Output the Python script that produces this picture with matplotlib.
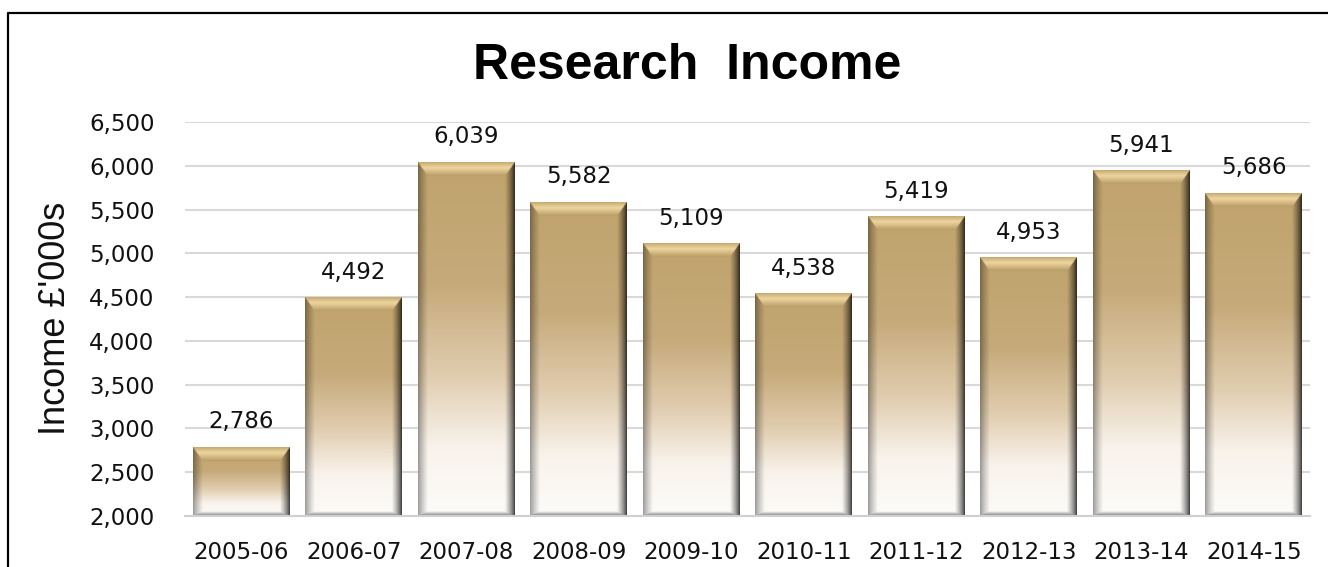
import numpy as np
import matplotlib
matplotlib.use("Agg")
import matplotlib.pyplot as plt
from matplotlib.lines import Line2D

# data
years = ['2005-06', '2006-07', '2007-08', '2008-09', '2009-10',
         '2010-11', '2011-12', '2012-13', '2013-14', '2014-15']
income = [2786, 4492, 6039, 5582, 5109, 4538, 5419, 4953, 5941, 5686]
yticks = [2000, 2500, 3000, 3500, 4000, 4500, 5000, 5500, 6000, 6500]

ymin, ymax = 2000, 6500
bar_w = 0.862

fig = plt.figure(figsize=(13.28, 5.67), dpi=100)
ax = fig.add_axes([185 / 1328, 51 / 567, 1125 / 1328, 394 / 567])

# outer frame (cut off at right and bottom like the original)
fig.add_artist(Line2D([0.006, 0.006, 1.0], [0.0, 0.977, 0.977],
                      transform=fig.transFigure, color='black', lw=1.6))

x = np.arange(len(years))
bars = ax.bar(x, income, width=bar_w, color='none', edgecolor='none', zorder=2)

px_per_unit = 394 / (ymax - ymin)   # vertical pixels per data unit
bar_px = 97                          # bar width in pixels


def bar_image(h_px, w_px):
    s = 2
    H = max(int(h_px * s), 4)
    W = int(w_px * s)
    yy = (np.arange(H) + 0.5)[:, None] / s * np.ones((1, W))
    xx = (np.arange(W) + 0.5)[None, :] / s * np.ones((H, 1))
    t = yy / h_px

    # face: gold at top fading to white
    stops = np.array([0.0, 0.35, 0.6, 0.8, 1.0])
    cols = np.array([[192, 163, 108], [198, 170, 122], [224, 204, 174],
                     [248, 242, 234], [253, 252, 250]]) / 255.0
    face = np.stack([np.interp(t, stops, cols[:, k]) for k in range(3)], axis=-1)
    img = face.copy()

    bt, br, bl, bb = 14.0, 10.0, 10.0, 5.0
    dt = yy / bt
    dr = (w_px - xx) / br
    dl = xx / bl
    db = (h_px - yy) / bb
    d = np.stack([dt, dr, dl, db])
    which = np.argmin(d, axis=0)
    dmin = np.min(d, axis=0)
    inside = dmin < 1

    # top bevel: rim, bright highlight, then back to face
    m = inside & (which == 0)
    u = dt[m][:, None]
    rim = np.array([196, 168, 112]) / 255.0
    light = np.array([238, 214, 160]) / 255.0
    inner = np.array([184, 155, 100]) / 255.0
    top = np.where(u < 0.4,
                   rim + (light - rim) * (u / 0.4),
                   light + (inner - light) * ((u - 0.4) / 0.6))
    img[m] = top

    # right bevel: dark edge
    m = inside & (which == 1)
    u = dr[m][:, None]
    img[m] = face[m] * (0.18 + 0.82 * u ** 0.7)

    # left bevel: soft shade
    m = inside & (which == 2)
    u = dl[m][:, None]
    img[m] = face[m] * (0.6 + 0.4 * u ** 0.8)

    # bottom bevel
    m = inside & (which == 3)
    u = db[m][:, None]
    img[m] = face[m] * (0.45 + 0.55 * u)

    return np.clip(img, 0, 1)


for rect, v in zip(bars, income):
    x0 = rect.get_x()
    x1 = x0 + rect.get_width()
    h_px = (v - ymin) * px_per_unit
    ax.imshow(bar_image(h_px, bar_px), extent=(x0, x1, ymin, v),
              origin='upper', aspect='auto', interpolation='bilinear', zorder=2)
    ax.annotate(f'{v:,}', (rect.get_x() + rect.get_width() / 2, v),
                xytext=(0, 10), textcoords='offset points',
                ha='center', va='bottom', fontsize=16.5, color='#111111')

ax.set_xlim(-0.5, len(years) - 0.5)
ax.set_ylim(ymin, ymax)
ax.set_aspect('auto')
ax.set_yticks(yticks)
ax.set_yticklabels([f'{t:,}' for t in yticks])
ax.set_xticks(x)
ax.set_xticklabels(years)
ax.tick_params(axis='y', length=0, pad=22, labelsize=16.5, labelcolor='#111111')
ax.tick_params(axis='x', length=0, pad=18, labelsize=16.5, labelcolor='#111111')

ax.grid(axis='y', color='#d9d9d9', lw=1.5, zorder=0)
ax.set_axisbelow(True)
for side in ['top', 'right', 'left']:
    ax.spines[side].set_visible(False)
ax.spines['bottom'].set_color('#d0d0d0')
ax.spines['bottom'].set_linewidth(1.5)

fig.text(687 / 1328, 1 - 66 / 567, 'Research  Income', ha='center', va='center',
         fontsize=36, fontweight='bold', color='black', family='Liberation Sans')
fig.text(56 / 1328, 1 - 318 / 567, "Income £'000s", ha='center', va='center',
         rotation=90, fontsize=26, color='#111111', family='Liberation Sans')

fig.savefig('out.png', dpi=100)
